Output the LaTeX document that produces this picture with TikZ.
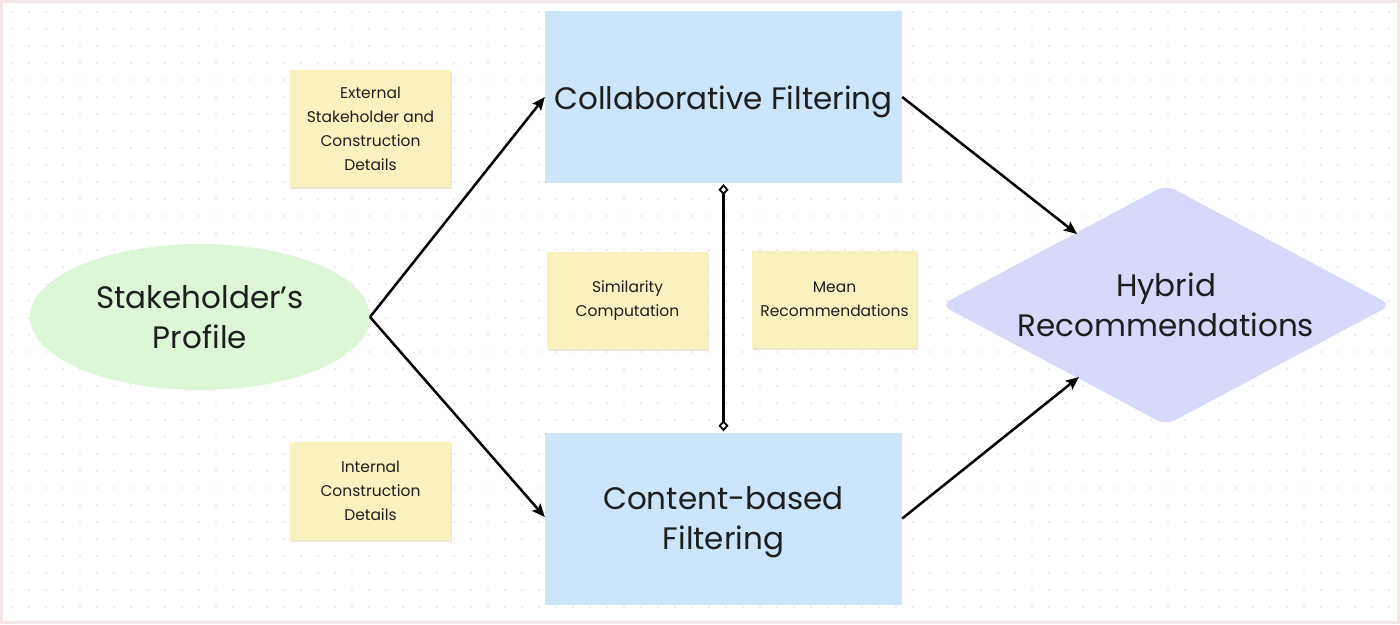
\documentclass[tikz,border=0pt]{standalone}
\usepackage{fontspec}
\setmainfont{Poppins}
\usetikzlibrary{arrows.meta,shapes.geometric}
\definecolor{txt}{HTML}{1E1E1E}
\definecolor{bluebox}{HTML}{CDE5FB}
\definecolor{greenell}{HTML}{DDF6D8}
\definecolor{note}{HTML}{FAF2BE}
\definecolor{noteshadow}{HTML}{ECE7D2}
\definecolor{lav}{HTML}{D7D9FA}
\definecolor{dotc}{HTML}{DADADA}
\definecolor{edge}{HTML}{F7E6E8}
\tikzset{
  bigtxt/.style={font=\fontsize{31}{40}\selectfont, text=txt, align=center},
  bluerect/.style={fill=bluebox, draw=none, minimum width=357pt, minimum height=172pt},
  notebox/.style={fill=note, draw=none, minimum width=161pt, font=\fontsize{15.5}{24}\selectfont, text=txt, align=center},
  conn/.style={draw=black, line width=2.5pt, -{Stealth[length=13pt,width=11pt,inset=2.5pt]}},
}
\begin{document}
\begin{tikzpicture}[x=1pt,y=-1pt]
\useasboundingbox (0,0) rectangle (1400,624);
\fill[white] (0,0) rectangle (1400,624);
\draw[edge, line width=3pt] (1.5,1.5) rectangle (1398.5,622.5);
\foreach \i in {0,...,81}{
  \foreach \j in {0,...,35}{
    \fill[dotc] (12+17*\i, 12+17*\j) circle (0.9);
  }
}
% Stakeholder ellipse
\node[ellipse, fill=greenell, minimum width=340pt, minimum height=146pt, inner sep=0pt] (sp) at (200,317) {};
\node[bigtxt] (spt) at (sp.center) {Stakeholder’s\\Profile};
% Blue boxes
\node[bluerect] (cf) at (723.5,97) {};
\node[bigtxt] (cft) at ([yshift=-5pt]cf.center) {Collaborative Filtering};
\node[bluerect] (cb) at (723.5,518.5) {};
\node[bigtxt] (cbt) at ([yshift=-4pt]cb.center) {Content-based\\Filtering};
% Notes with shadow
\fill[noteshadow] (291,72) rectangle (452,189);
\node[notebox, minimum height=117pt] (n1) at (370.5,128.5) {External\\Stakeholder and\\Construction\\Details};
\fill[noteshadow] (291,444) rectangle (452,542);
\node[notebox, minimum height=98pt] (n2) at (370.5,491) {Internal\\Construction\\Details};
\fill[noteshadow] (548,254) rectangle (709,351);
\node[notebox, minimum height=97pt] (n3) at (627.5,300.5) {Similarity\\Computation};
\fill[noteshadow] (753,253) rectangle (918,350);
\node[notebox, minimum width=165pt, minimum height=97pt] (n4) at (834.5,299.5) {Mean\\Recommendations};
% Hybrid diamond
\coordinate (hc) at (1166,305);
\fill[lav, rounded corners=10pt] (941,305) -- (1166,185) -- (1391,305) -- (1166,425) -- cycle;
\node[bigtxt] (hr) at (hc) {Hybrid\\Recommendations};
\coordinate (hrt) at (1077,234);
\coordinate (hrb) at (1079,377);
% connectors
\coordinate (spr) at (370,317);
\draw[conn] (spr) -- (cf.west);
\draw[conn] (spr) -- ([yshift=1.5pt]cb.west);
\draw[conn] (cf.east) -- (hrt);
\draw[conn] (cb.east) -- (hrb);
\draw[line width=2.5pt, {Diamond[fill=white,length=11pt,width=10pt,line width=1.8pt]}-{Diamond[fill=white,length=11pt,width=10pt,line width=1.8pt]}] ([yshift=-1pt]cf.south) -- ([yshift=1pt]cb.north);
\end{tikzpicture}
\end{document}
